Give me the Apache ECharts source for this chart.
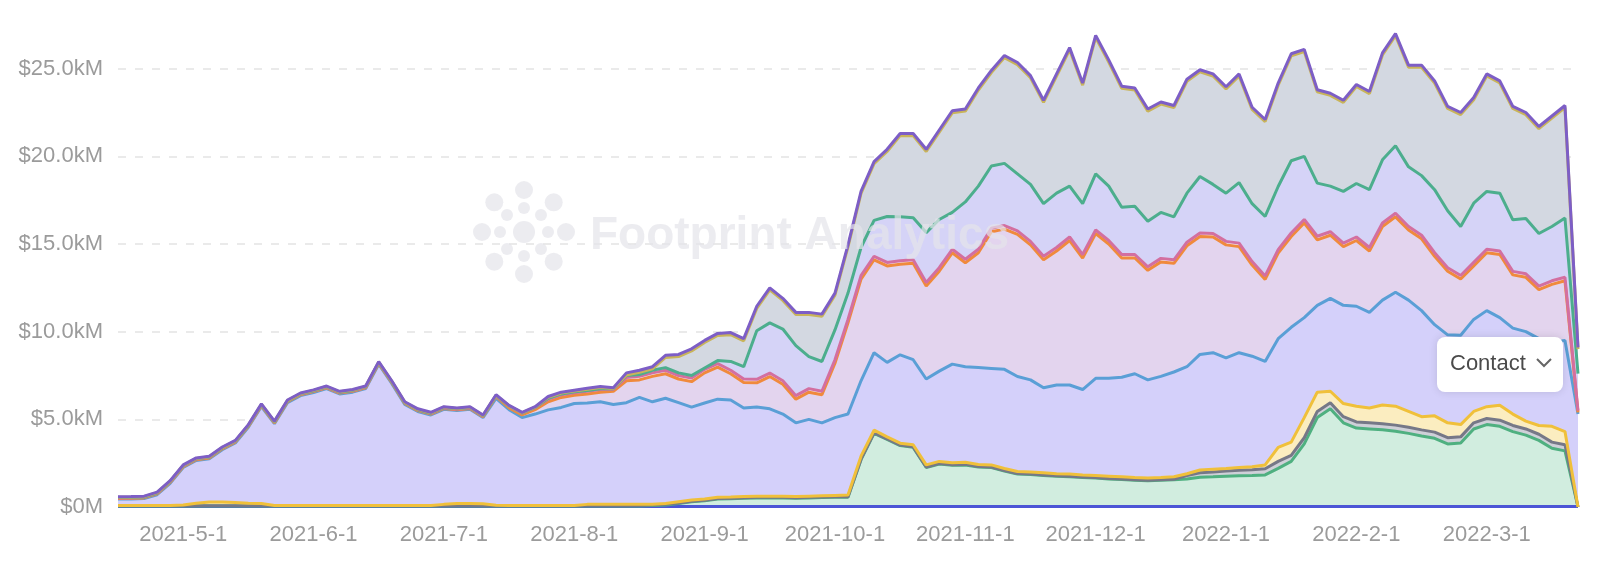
<!DOCTYPE html>
<html>
<head>
<meta charset="utf-8">
<script src="https://cdn.jsdelivr.net/npm/echarts@6/dist/echarts.min.js"></script>
<style>
html, body { margin: 0; padding: 0; background: #fff; overflow: hidden; }
/* the reference is cropped just under the 30k line, so the chart box starts above the page */
#chart { width: 1600px; height: 605px; margin-top: -19px; }
</style>
</head>
<body>
<div id="chart"></div>
<script>
var myChart = echarts.init(document.getElementById('chart'));

// categories: ~every 3 days, 10 points per month
var monthList = ['2021-4', '2021-5', '2021-6', '2021-7', '2021-8', '2021-9', '2021-10', '2021-11', '2021-12', '2022-1', '2022-2', '2022-3'];
var dayList = [1, 4, 7, 10, 13, 16, 19, 22, 25, 28];
var dates = [];
monthList.forEach(function (m) {
    dayList.forEach(function (d) { dates.push(m + '-' + d); });
});
dates = dates.slice(5, 118); // 2021-4-16 ... 2022-3-22

// stacked levels, in $kM (bottom to top)
var lvBase = [0.03,0.03,0.03,0.03,0.03,0.03,0.03,0.03,0.03,0.03, 0.03,0.03,0.03,0.03,0.03,0.03,0.03,0.03,0.03,0.03,
    0.03,0.03,0.03,0.03,0.03,0.03,0.03,0.03,0.03,0.03, 0.03,0.03,0.03,0.03,0.03,0.03,0.03,0.03,0.03,0.03,
    0.03,0.03,0.03,0.03,0.03,0.03,0.03,0.03,0.03,0.03, 0.03,0.03,0.03,0.03,0.03,0.03,0.03,0.03,0.03,0.03,
    0.03,0.03,0.03,0.03,0.03,0.03,0.03,0.03,0.03,0.03, 0.03,0.03,0.03,0.03,0.03,0.03,0.03,0.03,0.03,0.03,
    0.03,0.03,0.03,0.03,0.03,0.03,0.03,0.03,0.03,0.03, 0.03,0.03,0.03,0.03,0.03,0.03,0.03,0.03,0.03,0.03,
    0.03,0.03,0.03,0.03,0.03,0.03,0.03,0.03,0.03,0.03, 0.03,0.03,0.03];
var lvGreen = [0.05,0.05,0.05,0.05,0.05,0.05,0.05,0.05,0.05,0.05, 0.05,0.05,0.05,0.05,0.05,0.05,0.05,0.05,0.05,0.05,
    0.05,0.05,0.05,0.05,0.05,0.05,0.05,0.05,0.05,0.05, 0.05,0.05,0.05,0.05,0.05,0.05,0.05,0.05,0.05,0.05,
    0.06,0.08,0.12,0.2,0.3,0.35,0.45,0.47,0.5,0.52, 0.52,0.52,0.5,0.52,0.54,0.55,0.56,2.7,4.2,3.85,
    3.5,3.4,2.25,2.45,2.38,2.4,2.28,2.25,2.05,1.88, 1.85,1.8,1.75,1.72,1.68,1.65,1.6,1.57,1.53,1.5,
    1.52,1.55,1.6,1.7,1.72,1.75,1.78,1.8,1.83,2.2, 2.6,3.6,5.1,5.6,4.8,4.5,4.45,4.4,4.32,4.2,
    4.05,3.92,3.6,3.65,4.45,4.7,4.6,4.3,4.1,3.8, 3.35,3.2,0];
var lvGray = [0.07,0.07,0.07,0.07,0.07,0.07,0.07,0.07,0.07,0.07, 0.07,0.07,0.07,0.07,0.07,0.07,0.07,0.07,0.07,0.07,
    0.07,0.07,0.07,0.07,0.07,0.07,0.07,0.07,0.07,0.07, 0.07,0.07,0.07,0.07,0.07,0.07,0.07,0.07,0.07,0.07,
    0.09,0.11,0.15,0.23,0.33,0.38,0.48,0.5,0.53,0.55, 0.55,0.55,0.53,0.55,0.57,0.58,0.59,2.73,4.23,3.88,
    3.53,3.43,2.28,2.48,2.41,2.43,2.31,2.28,2.08,1.91, 1.88,1.83,1.78,1.75,1.71,1.68,1.63,1.6,1.56,1.53,
    1.55,1.58,1.8,1.95,2.0,2.05,2.1,2.12,2.18,2.6, 2.95,3.95,5.45,5.95,5.15,4.85,4.8,4.75,4.67,4.55,
    4.4,4.27,3.95,4.0,4.8,5.05,4.95,4.65,4.45,4.15, 3.7,3.55,0];
var lvYellow = [0.08,0.08,0.08,0.08,0.08,0.12,0.22,0.28,0.28,0.25, 0.22,0.2,0.08,0.08,0.08,0.08,0.08,0.08,0.08,0.08,
    0.08,0.08,0.08,0.08,0.08,0.15,0.2,0.2,0.18,0.1, 0.08,0.08,0.08,0.08,0.08,0.08,0.15,0.15,0.15,0.15,
    0.15,0.15,0.2,0.3,0.4,0.45,0.55,0.57,0.6,0.62, 0.62,0.62,0.6,0.62,0.64,0.66,0.68,2.9,4.38,4.0,
    3.64,3.55,2.4,2.6,2.52,2.55,2.42,2.4,2.2,2.02, 2.0,1.95,1.9,1.88,1.83,1.8,1.76,1.72,1.68,1.65,
    1.68,1.73,1.9,2.11,2.16,2.2,2.25,2.3,2.4,3.4, 3.7,5.1,6.55,6.6,5.9,5.75,5.65,5.82,5.75,5.45,
    5.15,5.2,4.8,4.7,5.45,5.72,5.8,5.3,4.9,4.65, 4.6,4.3,0];
var lvBlue = [0.45,0.46,0.48,0.7,1.35,2.25,2.65,2.75,3.27,3.65, 4.55,5.73,4.75,5.95,6.35,6.53,6.75,6.45,6.55,6.75,
    8.14,7.05,5.85,5.45,5.25,5.57,5.5,5.57,5.1,6.2, 5.55,5.1,5.3,5.54,5.68,5.9,5.93,6.0,5.85,5.95,
    6.25,6.0,6.2,5.95,5.7,5.93,6.15,6.1,5.65,5.7, 5.6,5.3,4.8,5.0,4.8,5.1,5.3,7.2,8.8,8.25,
    8.68,8.4,7.3,7.75,8.15,8.0,7.95,7.9,7.85,7.44, 7.25,6.8,6.96,6.96,6.7,7.34,7.35,7.4,7.6,7.25,
    7.45,7.7,8.0,8.7,8.8,8.5,8.8,8.6,8.3,9.6, 10.25,10.8,11.5,11.9,11.5,11.45,11.1,11.8,12.25,11.8,
    11.2,10.4,9.82,9.8,10.7,11.2,10.8,10.2,10.0,9.6, 9.4,9.5,5.3];
var lvOrange = [0.49,0.5,0.52,0.75,1.4,2.3,2.7,2.8,3.32,3.7, 4.6,5.78,4.8,6.0,6.4,6.58,6.8,6.5,6.6,6.8,
    8.19,7.1,5.9,5.5,5.3,5.62,5.55,5.62,5.15,6.3, 5.65,5.25,5.55,6.0,6.25,6.37,6.45,6.55,6.6,7.2,
    7.25,7.45,7.6,7.3,7.15,7.65,7.98,7.6,7.1,7.08, 7.44,7.0,6.15,6.55,6.4,8.2,10.5,13.0,14.1,13.75,
    13.85,13.9,12.6,13.45,14.5,13.93,14.5,15.7,15.85,15.55, 14.95,14.1,14.6,15.2,14.2,15.6,15.0,14.2,14.2,13.5,
    13.98,13.9,14.9,15.43,15.4,14.95,14.85,13.8,12.98,14.48, 15.43,16.2,15.24,15.5,14.85,15.2,14.6,16.0,16.55,15.8,
    15.3,14.3,13.45,13.0,13.75,14.5,14.4,13.24,13.1,12.4, 12.7,12.9,5.4];
var lvPink = [0.52,0.53,0.55,0.78,1.43,2.33,2.73,2.83,3.35,3.73, 4.63,5.81,4.83,6.03,6.43,6.61,6.83,6.53,6.63,6.83,
    8.22,7.13,5.93,5.53,5.33,5.65,5.58,5.65,5.18,6.33, 5.75,5.35,5.67,6.15,6.4,6.52,6.6,6.7,6.72,7.38,
    7.45,7.65,7.8,7.5,7.35,7.85,8.18,7.8,7.3,7.28, 7.64,7.2,6.35,6.75,6.6,8.4,10.7,13.2,14.3,13.95,
    14.05,14.1,12.8,13.65,14.7,14.13,14.7,15.9,16.05,15.75, 15.15,14.3,14.8,15.4,14.4,15.8,15.2,14.4,14.4,13.7,
    14.18,14.1,15.1,15.63,15.6,15.15,15.05,14.0,13.18,14.68, 15.63,16.4,15.44,15.7,15.05,15.4,14.8,16.2,16.75,16.0,
    15.5,14.5,13.65,13.2,13.95,14.7,14.6,13.44,13.3,12.6, 12.9,13.1,5.5];
var lvTeal = [0.54,0.55,0.57,0.8,1.45,2.35,2.75,2.85,3.37,3.75, 4.65,5.83,4.85,6.05,6.45,6.63,6.85,6.55,6.65,6.85,
    8.24,7.15,5.95,5.55,5.35,5.67,5.6,5.67,5.2,6.35, 5.76,5.36,5.68,6.2,6.45,6.57,6.65,6.75,6.74,7.5,
    7.55,7.8,7.95,7.65,7.5,7.93,8.35,8.3,8.0,10.05, 10.5,10.15,9.2,8.58,8.3,10.1,12.2,14.8,16.35,16.57,
    16.55,16.5,15.65,16.4,16.8,17.4,18.3,19.45,19.6,19.0, 18.4,17.3,17.9,18.3,17.3,19.0,18.3,17.1,17.15,16.3,
    16.8,16.55,17.9,18.85,18.4,17.9,18.5,17.3,16.57,18.28, 19.75,20.0,18.47,18.3,18.0,18.45,18.1,19.8,20.6,19.4,
    18.9,18.1,16.9,16.0,17.33,18.0,17.9,16.38,16.45,15.6, 16.0,16.48,7.6];
var lvOlive = [0.56,0.57,0.59,0.82,1.47,2.37,2.77,2.87,3.39,3.77, 4.67,5.85,4.87,6.07,6.47,6.65,6.87,6.57,6.67,6.87,
    8.26,7.17,5.97,5.57,5.37,5.69,5.62,5.69,5.22,6.37, 5.77,5.37,5.69,6.25,6.5,6.61,6.72,6.82,6.76,7.53,
    7.68,7.88,8.53,8.58,8.9,9.38,9.78,9.83,9.48,11.33, 12.38,11.78,10.98,10.98,10.88,12.08,14.83,17.88,19.58,20.28,
    21.18,21.18,20.28,21.38,22.48,22.58,23.78,24.78,25.63,25.23, 24.48,23.08,24.58,26.08,24.06,26.78,25.38,23.88,23.78,22.58,
    22.98,22.78,24.28,24.82,24.58,23.85,24.58,22.68,21.98,24.06, 25.73,25.98,23.68,23.48,23.08,23.98,23.58,25.78,26.88,25.08,
    25.08,24.18,22.73,22.38,23.23,24.58,24.18,22.73,22.38,21.58, 22.18,22.78,9.0];
var lvPurple = [0.59,0.6,0.62,0.85,1.5,2.4,2.8,2.9,3.42,3.8, 4.7,5.88,4.9,6.1,6.5,6.68,6.9,6.6,6.7,6.9,
    8.29,7.2,6.0,5.6,5.4,5.72,5.65,5.72,5.25,6.4, 5.8,5.4,5.72,6.3,6.55,6.66,6.77,6.87,6.8,7.65,
    7.8,8.0,8.65,8.7,9.02,9.5,9.9,9.95,9.6,11.45, 12.5,11.9,11.1,11.1,11.0,12.2,14.95,18.0,19.7,20.4,
    21.3,21.3,20.4,21.5,22.6,22.7,23.9,24.9,25.75,25.35, 24.6,23.2,24.7,26.2,24.18,26.9,25.5,24.0,23.9,22.7,
    23.1,22.9,24.4,24.94,24.7,23.97,24.7,22.8,22.1,24.18, 25.85,26.1,23.8,23.6,23.2,24.1,23.7,25.9,27.0,25.2,
    25.2,24.3,22.85,22.5,23.35,24.7,24.3,22.85,22.5,21.7, 22.3,22.9,9.1];

var layers = [
    {name: 'Base', data: lvBase, line: '#4c55d6', fill: '#d1eddf'},
    {name: 'Green', data: lvGreen, line: '#4fb080', fill: '#d1eddf'},
    {name: 'Gray', data: lvGray, line: '#767887', fill: '#cfd0d8'},
    {name: 'Yellow', data: lvYellow, line: '#f0c03a', fill: '#fbedc0'},
    {name: 'Blue', data: lvBlue, line: '#5a9fd6', fill: '#d4d0fa'},
    {name: 'Orange', data: lvOrange, line: '#f08a3c', fill: '#e3d4ee'},
    {name: 'Pink', data: lvPink, line: '#d36fa0', fill: '#eee2ef'},
    {name: 'Teal', data: lvTeal, line: '#4cae8d', fill: '#d5d3f7'},
    {name: 'Olive', data: lvOlive, line: '#c9b45a', fill: '#d3d8e1'},
    {name: 'Purple', data: lvPurple, line: '#7d5ec6', fill: '#d3d8e1'}
];

var series = [];
// fills first, top level painted first so lower ones cover it
layers.slice().reverse().forEach(function (l) {
    series.push({
        name: l.name, type: 'line', data: l.data, symbol: 'none', silent: true, z: 1,
        lineStyle: {opacity: 0},
        areaStyle: {color: l.fill, opacity: 1}
    });
});
// lines on top, bottom level first
layers.forEach(function (l) {
    series.push({
        name: l.name, type: 'line', data: l.data, symbol: 'none', z: 2,
        lineStyle: {width: 3, color: l.line},
        itemStyle: {color: l.line}
    });
});

var fontFam = '"Liberation Sans", Arial, Helvetica, sans-serif';
var wmColor = 'rgba(228,228,233,0.7)';
var dy = 19; // chart box offset above the page

var logo = [{type: 'circle', shape: {cx: 524, cy: 232 + dy, r: 11}, style: {fill: wmColor}, z: 50}];
[0, 45, 90, 135, 180, 225, 270, 315].forEach(function (a) {
    var r = a * Math.PI / 180;
    logo.push({type: 'circle', shape: {cx: 524 + 24 * Math.cos(r), cy: 232 + dy + 24 * Math.sin(r), r: 6}, style: {fill: wmColor}, z: 50});
    logo.push({type: 'circle', shape: {cx: 524 + 42 * Math.cos(r), cy: 232 + dy + 42 * Math.sin(r), r: 9}, style: {fill: wmColor}, z: 50});
});

option = {
    animation: false,
    grid: {left: 118, right: 22, top: 0, bottom: 79, outerBoundsMode: 'none', containLabel: false},
    xAxis: {
        type: 'category',
        boundaryGap: false,
        data: dates,
        axisLine: {show: false},
        axisTick: {show: false},
        axisLabel: {
            interval: function (idx, value) { return /-1$/.test(value); },
            color: '#9b9b9b',
            fontSize: 22,
            fontFamily: fontFam,
            margin: 17
        }
    },
    yAxis: {
        type: 'value',
        min: 0,
        max: 30,
        interval: 5,
        axisLine: {show: false},
        axisTick: {show: false},
        axisLabel: {
            formatter: function (v) { return v === 0 ? '$0M' : '$' + v.toFixed(1) + 'kM'; },
            color: '#9b9b9b',
            fontSize: 22,
            fontFamily: fontFam,
            margin: 15
        },
        splitLine: {lineStyle: {type: [8, 9], color: '#e4e4e4', width: 1.5}}
    },
    graphic: logo.concat([
        {
            type: 'text', left: 590, top: 213 + dy, z: 50,
            style: {text: 'Footprint Analytics', fill: wmColor, fontSize: 46, fontWeight: 'bold', fontFamily: fontFam}
        },
        {
            type: 'rect', shape: {x: 1437, y: 337 + dy, width: 126, height: 55, r: 8}, z: 100,
            style: {fill: '#fff', shadowBlur: 8, shadowColor: 'rgba(0,0,0,0.12)'}
        },
        {
            type: 'text', x: 1450, y: 364 + dy, z: 101,
            style: {text: 'Contact', fill: '#4a4a4a', fontSize: 22, fontFamily: fontFam, textVerticalAlign: 'middle', verticalAlign: 'middle'}
        },
        {
            type: 'polyline', z: 101,
            shape: {points: [[1537, 359 + dy], [1544, 366 + dy], [1551, 359 + dy]]},
            style: {stroke: '#666', lineWidth: 2, fill: null}
        }
    ]),
    series: series
};

myChart.setOption(option);
</script>
</body>
</html>
